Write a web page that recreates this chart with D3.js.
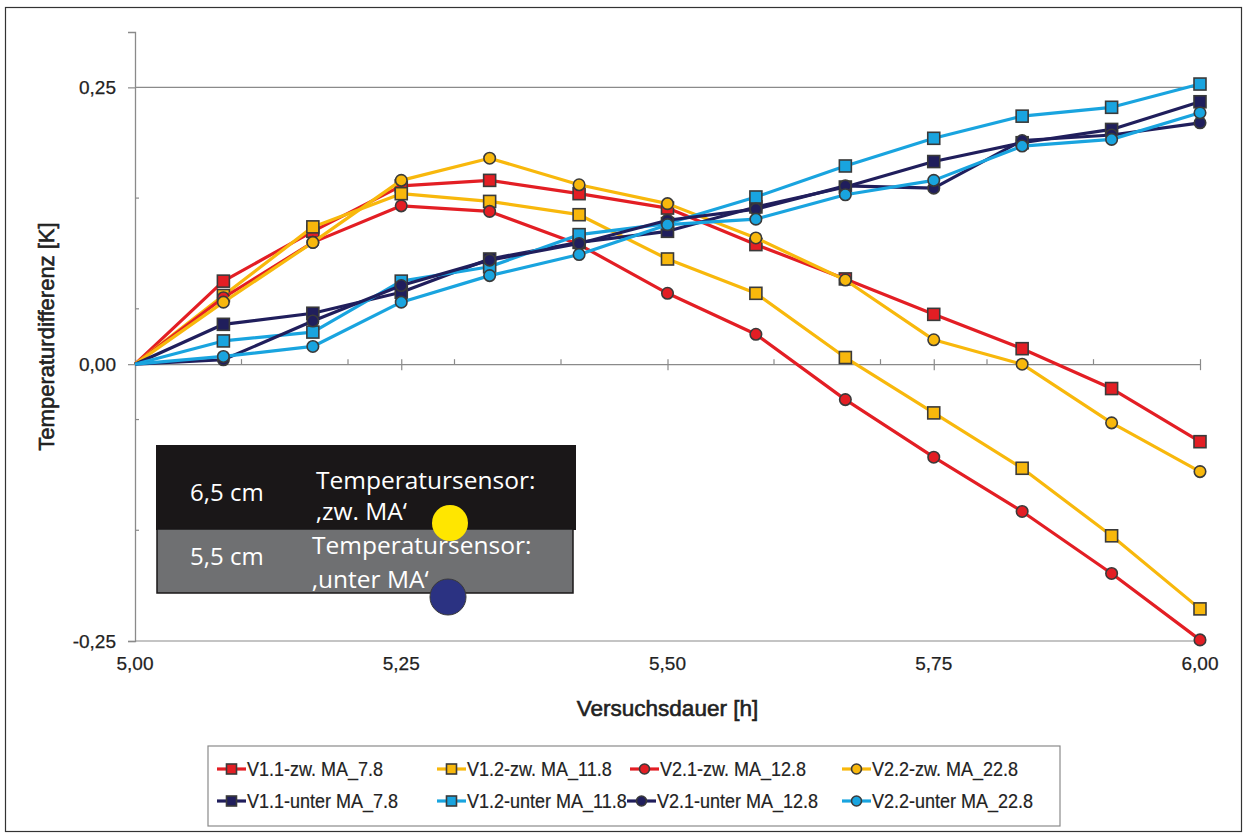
<!DOCTYPE html>
<html><head><meta charset="utf-8">
<script src="https://cdn.jsdelivr.net/npm/d3@7"></script>
<style>html,body{margin:0;padding:0;background:#fff;}svg{display:block;}</style>
</head><body>
<svg id="chart" width="1248" height="839"></svg>
<script>
// ---------- data ----------
const hours = [5.000, 5.083, 5.167, 5.250, 5.333, 5.417, 5.500, 5.583, 5.667, 5.750, 5.833, 5.917, 6.000];
const v11zw    = [0, 0.075, 0.120, 0.161, 0.166, 0.154, 0.141, 0.108, 0.077, 0.045, 0.014, -0.022, -0.070];
const v12zw    = [0, 0.062, 0.124, 0.154, 0.147, 0.135, 0.095, 0.064, 0.006, -0.044, -0.094, -0.155, -0.221];
const v21zw    = [0, 0.060, 0.110, 0.143, 0.138, 0.108, 0.064, 0.027, -0.032, -0.084, -0.133, -0.189, -0.249];
const v22zw    = [0, 0.056, 0.110, 0.166, 0.186, 0.162, 0.145, 0.114, 0.076, 0.022, 0.000, -0.053, -0.097];
const v11unter = [0, 0.036, 0.046, 0.065, 0.095, 0.110, 0.120, 0.142, 0.160, 0.183, 0.200, 0.212, 0.237];
const v12unter = [0, 0.021, 0.029, 0.075, 0.088, 0.117, 0.127, 0.151, 0.179, 0.204, 0.224, 0.232, 0.253];
const v21unter = [0, 0.004, 0.039, 0.071, 0.094, 0.109, 0.130, 0.140, 0.161, 0.159, 0.202, 0.207, 0.218];
const v22unter = [0, 0.007, 0.016, 0.056, 0.080, 0.099, 0.126, 0.131, 0.153, 0.166, 0.197, 0.203, 0.227];

const seriesNames = ["V1.1-zw. MA_7.8", "V1.2-zw. MA_11.8", "V2.1-zw. MA_12.8", "V2.2-zw. MA_22.8",
                     "V1.1-unter MA_7.8", "V1.2-unter MA_11.8", "V2.1-unter MA_12.8", "V2.2-unter MA_22.8"];
const seriesValues = [v11zw, v12zw, v21zw, v22zw, v11unter, v12unter, v21unter, v22unter];
const seriesColors = ["#e31e24", "#f8b80c", "#e31e24", "#f8b80c", "#201e5c", "#19a4df", "#201e5c", "#19a4df"];
const seriesMarkers = ["square", "square", "circle", "circle", "square", "square", "circle", "circle"];

const yMajorTicks = [-0.25, 0, 0.25];
const yMinorTicks = [-0.15, -0.05, 0.05, 0.15];
const xMajorTicks = [5.00, 5.25, 5.50, 5.75, 6.00];
const xMinorTicks = [5.1, 5.2, 5.3, 5.4, 5.6, 5.7, 5.8, 5.9];

const xTitle = "Versuchsdauer [h]";
const yTitle = "Temperaturdifferenz [K]";
const insetRows = [
  {depth: "6,5 cm", line1: "Temperatursensor:", line2: "‚zw. MA‘"},
  {depth: "5,5 cm", line1: "Temperatursensor:", line2: "‚unter MA‘"}
];

// ---------- layout ----------
const svg = d3.select("#chart");
const x = d3.scaleLinear().domain([5, 6]).range([135, 1200]);
const y = d3.scaleLinear().domain([-0.25, 0.30]).range([641, 32]);
const fmt = d => d.toFixed(2).replace(".", ",");
const sans = "'Liberation Sans', Arial, sans-serif";

// outer frame
svg.append("rect").attr("x", 5.5).attr("y", 7.5).attr("width", 1236).attr("height", 824)
  .attr("fill", "none").attr("stroke", "#333").attr("stroke-width", 1.2);

// gridlines at +/-0.25
svg.append("g").selectAll("line").data([0.25, -0.25]).join("line")
  .attr("x1", x(5)).attr("x2", x(6)).attr("y1", d => y(d)).attr("y2", d => y(d))
  .attr("stroke", "#8a8a8a").attr("stroke-width", 1.2);

// y axis
const yAxis = svg.append("g").attr("transform", `translate(${x(5)},0)`)
  .call(d3.axisLeft(y).tickValues(yMajorTicks).tickFormat(fmt).tickSize(7).tickPadding(12));
yAxis.select(".domain").attr("stroke", "#8a8a8a").attr("stroke-width", 1.3);
yAxis.selectAll(".tick line").attr("stroke", "#8a8a8a").attr("stroke-width", 1.2);
yAxis.selectAll("text").attr("font-family", sans).attr("font-size", 19).attr("fill", "#222")
  .attr("stroke", "#222").attr("stroke-width", 0.25);
svg.append("g").selectAll("line").data(yMinorTicks).join("line")
  .attr("x1", x(5)).attr("x2", x(5) + 4).attr("y1", d => y(d)).attr("y2", d => y(d))
  .attr("stroke", "#8a8a8a").attr("stroke-width", 1.2);

// x axis (at y = 0)
const xAxis = svg.append("g").attr("transform", `translate(0,${y(0)})`)
  .call(d3.axisBottom(x).tickValues(xMajorTicks).tickFormat("").tickSize(6).tickSizeOuter(0));
xAxis.select(".domain").attr("stroke", "#8a8a8a").attr("stroke-width", 1.3);
xAxis.selectAll(".tick line").attr("y1", -5).attr("y2", 6).attr("stroke", "#8a8a8a").attr("stroke-width", 1.2);
svg.append("g").selectAll("line").data(xMinorTicks).join("line")
  .attr("x1", d => x(d)).attr("x2", d => x(d)).attr("y1", y(0) - 5).attr("y2", y(0))
  .attr("stroke", "#8a8a8a").attr("stroke-width", 1.2);
// x tick labels below plot
svg.append("g").selectAll("text").data(xMajorTicks).join("text")
  .attr("x", d => x(d)).attr("y", 670).attr("text-anchor", "middle")
  .attr("font-family", sans).attr("font-size", 19).attr("fill", "#222")
  .attr("stroke", "#222").attr("stroke-width", 0.25).text(fmt);

// titles
svg.append("text").attr("x", x(5.5)).attr("y", 716).attr("text-anchor", "middle")
  .attr("font-family", sans).attr("font-size", 22.5).attr("fill", "#222")
  .attr("stroke", "#222").attr("stroke-width", 0.6).text(xTitle);
svg.append("text").attr("transform", `translate(54,${(y(0.30) + y(-0.25)) / 2}) rotate(-90)`)
  .attr("text-anchor", "middle").attr("font-family", sans).attr("font-size", 22).attr("fill", "#222")
  .attr("stroke", "#222").attr("stroke-width", 0.6).text(yTitle);

// ---------- series ----------
const line = d3.line().x((d, i) => x(hours[i])).y(d => y(d));
function drawMarker(g, type, color, cx, cy, sz) {
  if (type === "square") {
    g.append("rect").attr("x", cx - sz / 2).attr("y", cy - sz / 2).attr("width", sz).attr("height", sz)
      .attr("fill", color).attr("stroke", "#3a3a3a").attr("stroke-width", 1.6);
  } else {
    g.append("circle").attr("cx", cx).attr("cy", cy).attr("r", sz / 2)
      .attr("fill", color).attr("stroke", "#3a3a3a").attr("stroke-width", 1.6);
  }
}
const plot = svg.append("g");
seriesValues.forEach((vals, s) => {
  const g = plot.append("g");
  g.append("path").attr("d", line(vals)).attr("fill", "none")
    .attr("stroke", seriesColors[s]).attr("stroke-width", 3.2).attr("stroke-linejoin", "round");
  vals.forEach((v, i) => {
    if (i > 0) drawMarker(g, seriesMarkers[s], seriesColors[s], x(hours[i]), y(v), seriesMarkers[s] === "square" ? 12 : 11.5);
  });
});

// ---------- inset ----------
const inset = svg.append("g");
inset.append("rect").attr("x", 156).attr("y", 445).attr("width", 420).attr("height", 85).attr("fill", "#1a1718");
inset.append("rect").attr("x", 157).attr("y", 529).attr("width", 416).attr("height", 64)
  .attr("fill", "#6f7072").attr("stroke", "#1a1718").attr("stroke-width", 1.5);
const insetFont = "'Open Sans', 'Noto Sans', sans-serif";
const insetY = [[501, 489, 520], [565, 554, 588]];
const insetX = [[190, 316], [190, 312]];
insetRows.forEach((r, i) => {
  inset.append("text").attr("x", insetX[i][0]).attr("y", insetY[i][0]).attr("font-family", insetFont)
    .attr("font-size", 24).attr("fill", "#fff").text(r.depth);
  inset.append("text").attr("x", insetX[i][1]).attr("y", insetY[i][1]).attr("font-family", insetFont)
    .attr("font-size", 24.5).attr("fill", "#fff").text(r.line1);
  inset.append("text").attr("x", insetX[i][1]).attr("y", insetY[i][2]).attr("font-family", insetFont)
    .attr("font-size", 24.5).attr("fill", "#fff").text(r.line2);
});
inset.append("circle").attr("cx", 450).attr("cy", 523).attr("r", 18).attr("fill", "#ffe600");
inset.append("circle").attr("cx", 448).attr("cy", 597).attr("r", 18).attr("fill", "#2b3282")
  .attr("stroke", "#3a3a3a").attr("stroke-width", 1);

// ---------- legend ----------
const leg = svg.append("g");
leg.append("rect").attr("x", 208).attr("y", 746).attr("width", 852).attr("height", 80)
  .attr("fill", "#fff").attr("stroke", "#8a8a8a").attr("stroke-width", 1.2);
const legX = [[217, 437, 630, 842], [217, 437, 627, 842]];
const legY = [769, 801];
seriesNames.forEach((name, s) => {
  const row = Math.floor(s / 4), col = s % 4;
  const lx = legX[row][col], ly = legY[row];
  const g = leg.append("g");
  g.append("line").attr("x1", lx).attr("x2", lx + 29).attr("y1", ly).attr("y2", ly)
    .attr("stroke", seriesColors[s]).attr("stroke-width", 3.2);
  drawMarker(g, seriesMarkers[s], seriesColors[s], lx + 14.5, ly, 10);
  g.append("text").attr("transform", `translate(${lx + 30},${ly + 7}) scale(0.9,1)`)
    .attr("font-family", sans).attr("font-size", 20).attr("fill", "#222")
    .attr("stroke", "#222").attr("stroke-width", 0.2).text(name);
});
</script>
</body></html>
